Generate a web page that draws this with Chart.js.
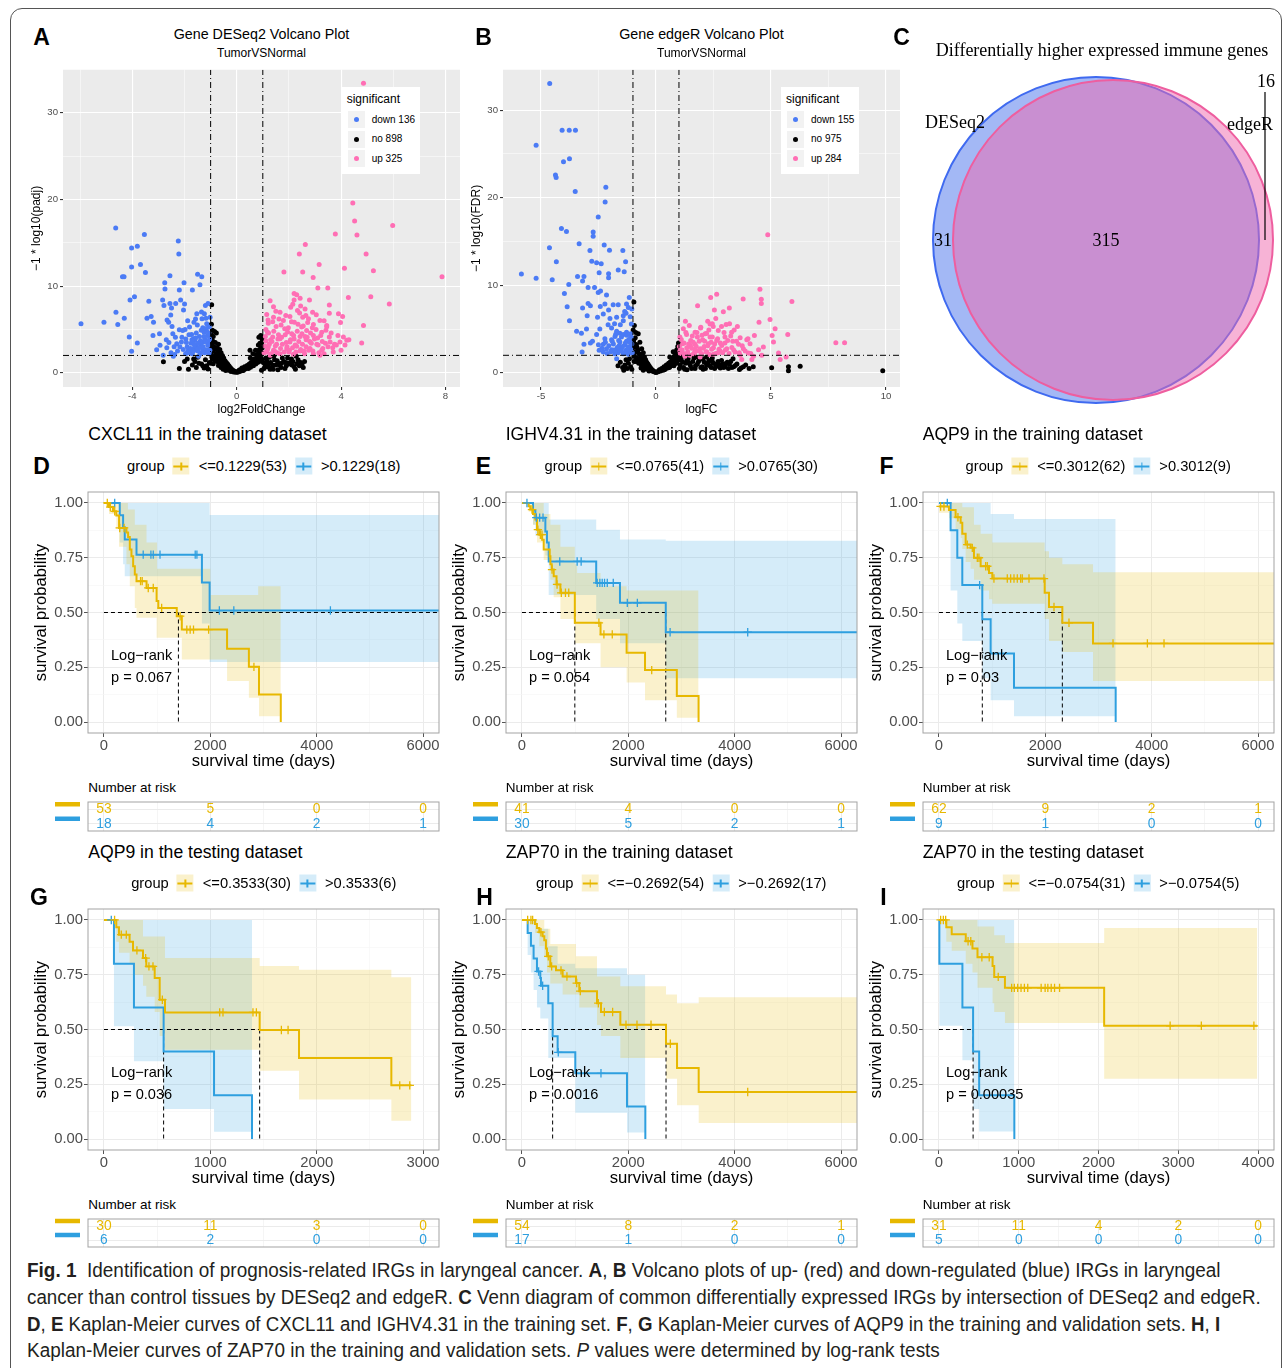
<!DOCTYPE html>
<html>
<head>
<meta charset="utf-8">
<title>Fig. 1</title>
<script src="https://cdn.jsdelivr.net/npm/chart.js@4.4.1/dist/chart.umd.min.js"></script>
<style>
  body { margin:0; width:1287px; height:1368px; position:relative; overflow:hidden; background:#fff;
         font-family:"Liberation Sans", Arial, sans-serif; color:#000; }
  canvas, .abs { position:absolute; }
  .abs { white-space:nowrap; line-height:1; }
  .mid { transform:translateY(-50%); }
  .ctr { transform:translate(-50%,-50%); }
  .frame { left:10px; top:8px; width:1270px; height:1420px; border:1px solid #555; border-radius:12px; }
  .letter { font-weight:bold; font-size:23px; }
  .vtitle { font-size:14.3px; }
  .vsub { font-size:12px; }
  .kmtitle { font-size:17.6px; }
  .risklab { font-size:13.5px; }
  .legend { display:flex; align-items:center; font-size:14.7px; }
  .key { position:relative; display:inline-block; width:17px; height:17px; margin:0 9px 0 8px; }
  .key i { position:absolute; left:1px; right:1px; top:7.5px; height:2px; }
  .key b { position:absolute; left:7.8px; width:1.4px; top:4.5px; height:8px; }
  .vleg { background:#fff; width:78px; height:87px; }
  .vleg .t { position:absolute; left:5px; top:6px; font-size:12px; }
  .vleg .k { position:absolute; left:6px; width:17px; height:17px; background:#F2F2F2; }
  .vleg .k span { position:absolute; left:6px; top:6px; width:5px; height:5px; border-radius:50%; }
  .vleg .l { position:absolute; left:30px; font-size:10px; transform:translateY(-50%); }
  .venn { font-family:"Liberation Serif", "Times New Roman", serif; font-size:18px; }
  .caption { left:27px; font-family:"Liberation Sans Narrow", "Liberation Sans", Arial, sans-serif;
             font-size:20px; color:#231F20; transform-origin:0 50%; }
</style>
</head>
<body>
<div class="abs frame"></div>
<script>
// ---------- volcano data: [log fold change, -log10(adj p)] ----------
const aDown = [[-5.97,5.65],[-5.09,5.84],[-4.64,16.7],[-4.63,6.98],[-4.56,5.57],[-4.38,11.07],[-4.32,11.07],[-4.31,6.3],
  [-4.09,8.4],[-4.12,4.12],[-4.03,2.48],[-4.03,14.4],[-4.03,12.2],[-3.92,8.78],[-3.81,14.6],[-3.81,3.43],[-3.69,12.5],
  [-3.54,15.95],[-3.5,11.56],[-3.44,6.3],[-3.37,8.24],[-3.28,6.49],[-3.21,4.31],[-3.19,5.84],[-3.07,2.67],[-2.96,4.5],
  [-2.94,3.17],[-2.84,8.4],[-2.82,2.02],[-2.79,7.75],[-2.76,10.4],[-2.75,9.66],[-2.68,2.9],[-2.67,6.1],[-2.61,5.84],
  [-2.56,11.2],[-2.56,8.0],[-2.53,6.68],[-2.5,7.48],[-2.48,5.34],[-2.45,4.5],[-2.43,1.9],[-2.38,2.1],[-2.34,8.0],
  [-2.3,3.36],[-2.24,15.2],[-2.22,13.7],[-2.2,9.54],[-2.2,4.96],[-2.15,8.4],[-2.12,3.55],[-2.07,4.89],[-2.04,7.25],
  [-2.02,10.4],[-2.0,7.94],[-1.96,2.2],[-1.85,2.6],[-1.81,5.27],[-1.79,2.29],[-1.73,4.43],[-1.7,9.54],[-1.66,3.93],
  [-1.64,5.84],[-1.6,3.74],[-1.56,3.17],[-1.53,6.8],[-1.5,11.37],[-1.46,1.9],[-1.43,4.2],[-1.41,10.15],[-1.34,11.07],
  [-1.33,6.22],[-1.3,2.79],[-1.28,3.55],[-1.25,4.69],[-1.24,6.8],[-1.2,7.75],[-1.18,2.67],[-1.15,5.65],[-1.12,4.31],
  [-1.09,3.17],[-1.06,2.29],[-1.05,5.27],[-1.02,6.41],[-1.9,3.0],[-1.75,3.4],[-1.62,2.9],[-1.48,2.5],[-1.38,3.3],
  [-1.22,3.9],[-1.1,2.6],[-1.7,2.2],[-1.55,4.6],[-1.95,3.9],[-2.35,4.1],[-2.6,3.5],[-1.3,5.2],[-1.15,4.8],[-1.08,3.6],[-1.4,2.2],
  [-1.03,2.6],[-1.04,3.9],[-1.07,4.6],[-1.11,3.2],[-1.14,2.4],[-1.17,5.1],[-1.19,3.6],[-1.23,2.3],[-1.26,4.2],[-1.29,3.0],
  [-1.32,2.4],[-1.36,4.9],[-1.39,3.7],[-1.44,2.9],[-1.47,3.4],[-1.51,5.5],[-1.54,2.6],[-1.58,4.0],[-1.63,3.3],[-1.67,2.5],
  [-1.72,3.8],[-1.77,2.8],[-1.83,4.4],[-1.88,2.4],[-1.93,3.5],[-1.98,5.0],[-2.05,2.7],[-2.1,4.1],[-2.18,3.0],[-2.27,2.5],
  [-2.4,3.0],[-2.52,2.3],[-2.7,3.8],[-1.18,6.3],[-1.35,7.0],[-1.58,6.2],[-1.88,6.0],[-1.1,8.0]];
const aNo = [[-0.96,7.86],[-0.97,5.6],[-0.93,4.9],[-0.85,4.75],[-0.78,4.6],[-0.9,4.2],[-0.95,3.8],[-0.82,3.5],[-0.7,3.3],
  [-0.88,3.0],[-0.75,2.9],[-0.65,2.7],[-0.92,2.5],[-0.6,2.3],[-0.8,2.2],[-0.55,2.0],[-0.7,1.9],[-0.95,1.8],[-0.5,1.7],
  [-0.62,1.6],[-0.85,1.5],[-0.45,1.4],[-0.75,1.3],[-0.4,1.2],[-0.58,1.1],[-0.9,1.05],[-0.35,1.0],[-0.5,0.9],[-0.7,0.85],
  [-0.3,0.8],[-0.45,0.7],[-0.25,0.6],[-0.6,0.6],[-0.38,0.5],[-0.2,0.45],[-0.52,0.4],[-0.15,0.3],[-0.3,0.3],[-0.1,0.2],
  [-0.42,0.25],[-0.05,0.1],[-0.22,0.15],[0,0.05],[-0.12,0.08],[0.05,0.08],[0.1,0.15],[0.15,0.2],[0.22,0.3],[0.28,0.4],
  [0.35,0.5],[0.12,0.35],[0.2,0.55],[0.3,0.7],[0.42,0.6],[0.4,0.85],[0.5,0.8],[0.48,1.0],[0.55,1.2],[0.6,0.9],[0.62,1.4],
  [0.68,1.1],[0.7,1.6],[0.75,1.3],[0.78,1.9],[0.82,1.5],[0.85,2.2],[0.88,1.7],[0.9,2.5],[0.92,2.9],[0.95,3.4],[0.97,3.9],
  [0.85,4.1],[0.92,4.3],[0.83,3.2],[0.72,2.6],[0.62,2.2],[0.52,1.7],[0.51,2.6],[-2.81,1.26],[-1.9,1.6],[-1.6,1.3],
  [-1.35,1.0],[-1.2,1.5],[-1.15,0.8],[-1.05,1.2],[-1.5,1.8],[-1.25,0.55],[-1.1,0.45],[1.05,0.5],[1.1,1.0],[1.15,1.4],
  [1.2,0.7],[1.3,1.2],[1.35,0.6],[1.45,1.5],[1.5,0.9],[1.6,1.1],[1.7,0.6],[1.8,1.3],[1.9,0.8],[2.0,1.0],[2.1,1.6],
  [2.2,0.7],[2.3,1.05],[2.4,0.8],[2.15,1.3],[1.75,1.7],[1.25,1.8],[2.5,0.95],[1.4,0.4],[0.95,0.3],
  [-0.98,4.4],[-0.96,3.3],[-0.99,2.8],[-0.97,2.1],[-0.93,1.6],[-0.91,3.6],[-0.87,2.7],[-0.83,1.9],[-0.8,2.9],[-0.77,1.5],
  [-0.73,2.4],[-0.69,1.2],[-0.66,2.1],[-0.63,1.0],[-0.59,1.8],[-0.56,0.8],[-0.53,1.4],[-0.48,0.6],[-0.46,1.1],[-0.43,0.5],
  [-0.41,0.9],[-0.36,0.4],[-0.33,0.65],[-0.28,0.35],[-0.26,0.5],[-0.18,0.25],[-0.08,0.12],[0.03,0.12],[0.08,0.25],[0.18,0.3],
  [0.25,0.25],[0.32,0.45],[0.38,0.62],[0.45,0.5],[0.53,0.65],[0.58,1.05],[0.64,0.8],[0.66,1.6],[0.73,1.0],[0.76,2.1],
  [0.8,1.2],[0.84,2.6],[0.87,1.3],[0.89,3.4],[0.91,2.0],[0.94,2.4],[0.96,1.6],[0.98,2.9],[0.99,4.1],[-1.0,1.1],[-1.3,0.8],
  [-1.45,1.1],[-1.7,0.9],[-2.0,1.3],[-2.2,0.5],[-1.55,0.6],[-1.85,0.4],[-1.65,1.6],[1.02,1.2],[1.08,0.7],[1.12,1.7],
  [1.22,1.0],[1.28,0.4],[1.38,0.9],[1.42,1.9],[1.55,1.4],[1.65,0.9],[1.72,1.1],[1.85,0.5],[1.95,1.7],[2.05,1.2],[2.25,0.4],
  [2.35,1.5],[2.45,1.2],[2.55,0.6],[2.6,1.3],[2.28,1.9],[1.58,0.35],[1.88,1.2],[2.12,0.9]];
const aUp = [[4.86,33.4],[4.45,19.6],[4.52,17.5],[5.98,17.0],[3.78,16.0],[4.61,15.9],[2.63,14.8],[2.4,13.7],[4.96,13.7],
  [3.16,12.5],[4.13,12.06],[5.24,11.76],[1.81,11.64],[2.53,11.64],[2.93,11.0],[7.87,11.07],[3.11,9.77],[3.49,9.77],
  [2.2,9.16],[2.3,9.0],[2.43,8.6],[4.28,8.7],[5.14,8.78],[1.28,8.3],[2.2,8.4],[2.79,8.4],[5.85,7.94],[3.55,7.82],
  [1.41,7.63],[2.07,7.56],[2.62,7.37],[2.33,7.18],[1.66,6.98],[2.91,6.98],[1.15,6.72],[3.55,6.87],[3.9,6.8],[2.04,6.49],
  [1.41,6.41],[2.53,6.41],[4.06,6.49],[2.75,6.22],[1.79,6.03],[3.19,6.03],[1.21,5.72],[2.21,5.84],[2.94,5.57],[4.86,5.46],
  [1.51,5.34],[2.49,5.27],[3.45,5.46],[1.84,5.08],[2.68,4.89],[1.18,4.69],[3.26,4.69],[2.11,4.5],[2.94,4.31],[3.55,4.12],
  [1.38,4.12],[2.43,4.2],[4.09,4.12],[1.66,3.93],[2.66,3.82],[3.58,3.55],[1.12,3.66],[2.04,3.55],[3.96,3.55],[4.22,3.74],
  [4.79,3.43],[3.75,3.28],[1.53,3.28],[3.07,3.28],[2.3,3.05],[1.21,2.98],[2.81,2.79],[1.92,2.79],[1.41,2.6],[3.26,2.6],
  [2.43,2.52],[1.15,2.4],[2.94,2.21],[1.66,2.21],[3.19,2.02],[2.17,2.14],[1.28,2.02],[1.3,3.8],[1.6,4.4],[1.9,3.5],
  [2.2,3.9],[2.5,4.5],[2.8,3.6],[3.1,4.0],[1.45,2.5],[2.0,2.4],[2.6,2.2],[3.3,2.8],[3.7,2.4],[1.1,4.2],[1.7,5.5],
  [2.35,5.6],[2.9,5.2],[3.4,3.4],[1.25,3.3],[1.95,4.7],[2.7,4.1],
  [1.05,2.3],[1.08,3.1],[1.12,5.0],[1.18,2.7],[1.22,4.6],[1.32,2.2],[1.35,3.6],[1.38,5.9],[1.42,4.8],[1.48,3.1],[1.55,2.3],
  [1.58,3.9],[1.62,6.2],[1.68,2.8],[1.72,4.1],[1.75,3.3],[1.82,2.4],[1.86,4.4],[1.88,6.6],[1.93,3.0],[1.98,5.2],[2.02,2.6],
  [2.06,3.8],[2.1,5.9],[2.14,2.9],[2.18,4.3],[2.24,3.2],[2.27,2.4],[2.32,4.8],[2.38,3.6],[2.41,6.9],[2.45,2.7],[2.52,3.3],
  [2.55,5.4],[2.58,2.5],[2.62,4.2],[2.66,3.0],[2.72,5.8],[2.76,2.6],[2.83,4.6],[2.86,3.4],[2.92,2.5],[2.98,3.9],[3.04,5.0],
  [3.12,3.2],[3.15,2.3],[3.22,4.3],[3.28,3.6],[3.35,2.2],[3.42,4.9],[3.5,3.0],[3.62,4.6],[3.68,2.9],[3.82,3.2],[3.88,4.3],
  [4.0,2.6],[4.15,3.2],[4.3,3.8],[3.98,5.8],[1.2,6.1],[1.5,7.1],[2.15,7.9],[2.45,7.7],[2.65,6.6],[3.05,6.7],[3.35,6.0],[3.45,5.3]];
const aCounts = [136, 898, 325];

const bDown = [[-4.62,33.06],[-5.21,26.0],[-4.08,27.7],[-3.77,27.7],[-3.5,27.7],[-3.76,24.45],[-4.02,24.1],[-4.37,22.6],
  [-4.34,22.3],[-3.51,20.7],[-2.18,21.2],[-2.21,19.5],[-2.51,17.8],[-4.11,16.5],[-3.89,16.15],[-2.73,16.1],[-2.73,15.6],
  [-2.25,14.6],[-3.34,14.75],[-4.63,14.3],[-2.87,13.96],[-2.02,14.0],[-1.44,13.96],[-4.33,12.7],[-2.79,12.75],[-2.58,12.57],
  [-2.38,12.45],[-1.32,12.7],[-5.85,11.28],[-5.21,10.8],[-4.51,10.64],[-3.41,11.0],[-3.13,11.0],[-3.19,10.5],[-2.47,11.43],
  [-2.06,11.32],[-2.06,10.87],[-1.64,11.74],[-1.38,11.55],[-3.79,10.1],[-2.95,9.74],[-2.67,9.74],[-2.51,9.17],[-2.15,8.9],
  [-3.98,9.06],[-2.41,9.36],[-1.16,8.6],[-2.95,7.92],[-2.85,7.66],[-2.22,7.85],[-1.86,7.77],[-1.64,7.77],[-1.28,7.85],
  [-3.86,7.55],[-3.19,7.4],[-2.42,7.58],[-2.06,7.17],[-1.2,7.47],[-1.36,7.0],[-2.99,6.53],[-2.29,6.72],[-2.54,6.34],
  [-1.71,6.34],[-1.42,6.53],[-3.76,5.96],[-1.42,5.96],[-2.08,5.5],[-1.07,5.58],[-1.93,5.13],[-2.44,5.0],[-3.02,5.0],
  [-3.45,4.75],[-3.24,4.53],[-2.58,4.38],[-1.71,4.75],[-1.57,4.53],[-1.42,4.38],[-1.28,4.64],[-1.78,4.15],[-1.1,4.45],
  [-2.22,3.89],[-1.93,3.77],[-2.76,3.62],[-3.13,3.25],[-2.85,3.4],[-1.57,3.51],[-1.28,3.62],[-1.13,3.51],[-2.29,3.25],
  [-2.47,2.57],[-2.15,2.75],[-1.93,2.64],[-1.71,2.57],[-1.5,2.75],[-1.31,2.57],[-1.1,2.75],[-3.21,2.38],[-2.29,2.38],
  [-1.79,2.19],[-1.42,2.19],[-1.2,2.11],[-1.71,1.62],[-1.6,3.1],[-1.35,3.2],[-1.15,3.0],[-1.85,3.3],[-1.25,2.45],[-1.65,2.3],
  [-1.03,2.3],[-1.05,3.3],[-1.08,4.1],[-1.12,2.5],[-1.18,3.8],[-1.22,2.9],[-1.27,4.3],[-1.33,3.4],[-1.38,2.3],[-1.45,3.0],
  [-1.5,4.1],[-1.55,2.5],[-1.62,3.7],[-1.68,2.9],[-1.75,4.4],[-1.82,2.6],[-1.9,3.6],[-1.97,2.4],[-2.05,3.1],[-2.12,2.2],
  [-2.2,3.5],[-2.35,2.8],[-2.5,3.2],[-1.12,6.4],[-1.3,6.8],[-1.55,5.5],[-1.8,5.6],[-1.05,7.3],[-2.0,6.2]];
const bNo = [[-0.96,8.1],[-0.94,5.4],[-0.88,4.6],[-0.77,4.45],[-0.9,4.0],[-0.7,3.5],[-0.85,3.2],[-0.62,2.75],[-0.78,2.6],
  [-0.55,2.3],[-0.95,2.2],[-0.68,2.0],[-0.5,1.8],[-0.85,1.7],[-0.45,1.5],[-0.6,1.4],[-0.95,1.3],[-0.4,1.2],[-0.75,1.1],
  [-0.35,1.0],[-0.5,0.9],[-1.2,1.1],[-1.35,0.9],[-1.1,0.7],[-1.45,0.6],[-1.05,0.4],[-0.3,0.8],[-0.45,0.65],[-0.25,0.6],
  [-0.65,0.55],[-0.2,0.45],[-0.38,0.4],[-0.15,0.3],[-0.55,0.3],[-0.1,0.2],[-0.3,0.2],[-0.05,0.1],[0,0.05],[0.05,0.08],
  [0.1,0.15],[0.2,0.2],[0.3,0.3],[0.15,0.35],[0.4,0.4],[0.25,0.5],[0.5,0.55],[0.35,0.7],[0.6,0.7],[0.45,0.9],[0.7,0.85],
  [0.55,1.1],[0.8,1.0],[0.65,1.3],[0.9,1.2],[0.72,1.6],[0.95,1.5],[0.8,1.9],[0.85,2.2],[0.9,2.6],[0.95,3.0],[0.98,3.4],
  [0.75,2.4],[0.6,1.8],[1.05,0.9],[1.1,1.4],[1.2,0.6],[1.3,1.1],[1.4,1.6],[1.5,0.8],[1.6,1.3],[1.7,0.5],[1.8,1.0],
  [1.9,1.5],[2.0,0.7],[2.1,1.2],[2.2,0.9],[2.3,1.4],[2.4,0.6],[2.5,1.1],[2.6,0.8],[2.7,1.3],[2.8,0.55],[2.9,1.0],
  [3.0,0.75],[3.19,0.98],[3.3,0.6],[3.45,0.85],[3.63,0.38],[3.8,0.7],[4.23,0.68],[5.03,0.57],[5.76,0.68],[5.76,0.23],
  [6.27,0.75],[9.86,0.23],[1.15,1.9],[2.45,1.7],[1.75,1.8],[1.35,0.35],[2.05,0.4],[2.75,0.9],[3.1,1.2],[-1.3,1.5],
  [-0.99,4.9],[-0.97,3.7],[-0.98,2.9],[-0.96,1.9],[-0.92,3.3],[-0.89,2.4],[-0.86,1.3],[-0.82,2.9],[-0.8,1.6],[-0.74,2.2],
  [-0.71,1.3],[-0.66,1.7],[-0.63,0.9],[-0.58,1.3],[-0.52,1.1],[-0.47,0.7],[-0.42,0.9],[-0.33,0.55],[-0.28,0.4],[-0.22,0.3],
  [-0.12,0.15],[0.08,0.12],[0.18,0.3],[0.28,0.45],[0.35,0.35],[0.45,0.6],[0.52,0.9],[0.58,0.6],[0.62,1.2],[0.68,0.9],
  [0.74,1.4],[0.78,0.8],[0.82,1.6],[0.88,1.1],[0.92,2.1],[0.96,1.8],[0.99,2.5],[-1.15,1.6],[-1.25,0.5],[-1.55,1.2],
  [-1.65,0.8],[-1.4,0.3],[1.02,0.5],[1.08,1.6],[1.18,1.2],[1.25,0.4],[1.35,1.5],[1.45,1.1],[1.55,0.5],[1.65,1.7],
  [1.72,0.8],[1.85,1.3],[1.95,0.6],[2.05,1.6],[2.15,0.5],[2.25,1.1],[2.35,0.8],[2.45,1.3],[2.55,0.5],[2.65,1.0],
  [2.75,0.7],[2.85,1.4],[2.95,0.6],[3.05,1.1],[3.15,0.5],[3.25,1.3],[3.38,0.7],[3.52,1.0],[3.7,0.55],[3.9,0.9],
  [4.05,0.5],[3.35,1.6],[2.2,1.8],[1.3,1.9]];
const bUp = [[4.86,15.77],[4.52,9.55],[4.58,8.4],[4.58,7.92],[5.91,8.15],[2.64,8.98],[2.38,8.6],[3.79,8.42],[1.81,7.66],
  [3.19,7.4],[2.54,7.17],[2.93,6.98],[4.96,6.08],[1.28,5.89],[2.25,5.89],[4.48,5.77],[3.05,5.51],[1.45,5.4],[2.35,5.58],
  [3.54,5.28],[5.18,5.02],[1.19,5.02],[1.94,5.13],[2.49,5.28],[1.7,4.64],[2.71,4.83],[3.29,4.64],[2.14,4.45],[1.33,4.38],
  [4.28,4.26],[5.05,4.26],[5.73,4.38],[1.04,4.08],[1.8,4.08],[2.35,4.08],[3.0,4.08],[3.66,4.0],[1.51,3.7],[2.03,3.77],
  [2.64,3.7],[3.34,3.62],[3.95,3.77],[5.11,3.51],[7.82,3.43],[8.2,3.43],[1.16,3.32],[1.7,3.25],[2.28,3.32],[2.86,3.13],
  [3.59,3.25],[4.09,3.32],[1.34,2.87],[1.92,2.75],[2.5,2.87],[3.08,2.75],[3.8,2.75],[4.46,2.64],[4.67,2.94],[1.04,2.49],
  [2.21,2.38],[2.79,2.49],[3.44,2.38],[4.02,2.26],[5.33,2.26],[1.63,2.19],[2.5,2.11],[3.66,2.0],[4.24,1.89],[4.6,2.0],
  [5.66,1.81],[5.4,1.51],[3.73,1.51],[4.17,1.51],[1.26,1.89],[1.92,1.81],[1.5,3.1],[2.1,3.0],[2.7,2.3],[3.3,2.9],
  [1.2,2.2],[2.4,3.5],[1.7,2.6],[3.0,3.4],[2.2,4.5],
  [1.02,3.0],[1.06,2.2],[1.1,3.8],[1.14,2.6],[1.22,3.4],[1.24,2.1],[1.3,4.6],[1.38,2.4],[1.42,3.3],[1.47,2.0],[1.55,2.8],
  [1.58,4.2],[1.62,3.5],[1.68,2.3],[1.75,3.0],[1.78,4.6],[1.85,2.5],[1.88,3.6],[1.98,2.2],[2.0,4.3],[2.06,2.8],[2.12,3.6],
  [2.18,2.4],[2.25,3.1],[2.3,4.9],[2.33,2.1],[2.42,2.7],[2.45,4.1],[2.55,3.3],[2.6,2.2],[2.68,3.9],[2.74,2.7],[2.8,3.4],
  [2.9,2.3],[2.96,4.6],[3.02,2.6],[3.12,3.7],[3.18,2.2],[3.25,4.2],[3.38,2.6],[3.5,3.6],[3.62,2.3],[3.75,3.1],[3.88,2.5],
  [4.0,3.9],[4.12,2.2],[2.85,5.3],[2.45,5.6],[1.95,5.2],[3.2,5.6],[2.6,6.2],[3.4,4.9]];
const bCounts = [155, 975, 284];
const sigNames = ['down', 'no', 'up'];
const fcCut = [-1, 1];
const padjCut = 2;

// ---------- Venn ----------
const vennSets = ['DESeq2', 'edgeR'];
const vennCounts = [31, 315, 16]; // DESeq2 only, both, edgeR only

// ---------- Kaplan-Meier: [time, survival] steps, CI bounds, censored times ----------
// D: CXCL11 training
const dLoCurve = [[0,1],[95,0.981],[170,0.962],[233,0.943],[284,0.886],[423,0.865],[454,0.845],[486,0.787],[517,0.757],[549,0.711],
  [580,0.673],[612,0.643],[801,0.612],[990,0.552],[1022,0.521],[1369,0.483],[1464,0.422],[2315,0.334],[2725,0.252],[2915,0.126],[3325,0]];
const dLoCens = [63,120,202,297,379,688,719,833,927,1085,1432,1558,1621,1684,1968,2820];
const dLoUpper = [[0,1],[300,1],[450,0.97],[580,0.9],[800,0.82],[1000,0.7],[2000,0.58],[2900,0.62],[3325,0.62]];
const dLoLower = [[0,1],[95,0.95],[233,0.88],[284,0.8],[423,0.72],[486,0.62],[580,0.52],[612,0.476],[990,0.385],[1464,0.286],
  [2315,0.187],[2725,0.111],[2915,0.027],[3325,0.027]];
const dHiCurve = [[0,1],[297,0.944],[360,0.889],[391,0.833],[612,0.764],[1842,0.637],[1987,0.509],[6300,0.509]];
const dHiCens = [202,738,883,927,1054,1716,1748,2170,2442,4258];
const dHiUpper = [[0,1],[1987,0.945],[6300,0.945]];
const dHiLower = [[0,1],[297,0.82],[360,0.72],[391,0.666],[1842,0.45],[1987,0.274],[6300,0.274]];
const dMedians = [1400];
const dRiskLo = [53, 5, 0, 0];
const dRiskHi = [18, 4, 2, 1];

// E: IGHV4.31 training
const eLoCurve = [[0,1],[126,0.985],[157,0.97],[208,0.95],[252,0.925],[283,0.878],[330,0.855],[380,0.832],[409,0.787],[522,0.757],
  [535,0.72],[560,0.696],[597,0.666],[650,0.628],[723,0.59],[994,0.453],[1478,0.4],[1968,0.316],[2314,0.237],[2912,0.119],[3321,0]];
const eLoCens = [189,300,346,377,566,660,740,818,880,1447,1541,1698,2440];
const eLoUpper = [[0,1],[283,1],[409,0.95],[535,0.9],[723,0.8],[994,0.72],[1038,0.68],[1478,0.62],[1968,0.6],[3321,0.6]];
const eLoLower = [[0,1],[126,0.96],[208,0.9],[283,0.82],[409,0.74],[535,0.65],[597,0.57],[723,0.47],[994,0.36],[1478,0.25],
  [1968,0.18],[2314,0.1],[2912,0.02],[3321,0.02]];
const eHiCurve = [[0,1],[208,0.967],[252,0.933],[440,0.87],[470,0.82],[503,0.733],[1396,0.635],[1843,0.544],[2704,0.41],[6300,0.41]];
const eHiCens = [94,270,333,396,711,1038,1113,1415,1465,1509,1553,1604,1717,1981,2170,2786,4245];
const eHiUpper = [[0,1],[503,0.924],[1396,0.878],[1843,0.833],[2704,0.828],[6300,0.828]];
const eHiLower = [[0,1],[208,0.9],[252,0.85],[440,0.76],[503,0.58],[1396,0.47],[1843,0.36],[2704,0.2],[6300,0.2]];
const eMedians = [994, 2704];
const eRiskLo = [41, 4, 0, 0];
const eRiskHi = [30, 5, 2, 1];

// F: AQP9 training
const fLoCurve = [[0,0.984],[188,0.968],[313,0.935],[408,0.91],[439,0.86],[502,0.81],[596,0.795],[658,0.75],[784,0.711],[941,0.68],
  [1003,0.655],[1988,0.59],[2069,0.525],[2320,0.453],[2897,0.359],[6300,0.359]];
const fLoCens = [31,94,357,533,627,721,752,878,909,1034,1285,1348,1411,1473,1536,1567,1693,1975,2163,2445,3273,3919,4232];
const fLoUpper = [[0,1],[439,0.98],[658,0.9],[784,0.86],[1003,0.82],[1988,0.78],[2069,0.75],[2320,0.72],[2897,0.684],[6300,0.684]];
const fLoLower = [[0,0.955],[188,0.93],[313,0.88],[408,0.84],[439,0.79],[502,0.73],[596,0.7],[658,0.65],[784,0.6],[941,0.56],
  [1003,0.54],[1988,0.47],[2069,0.37],[2320,0.32],[2897,0.187],[6300,0.187]];
const fHiCurve = [[0,1],[219,0.875],[345,0.75],[439,0.625],[815,0.469],[972,0.3125],[1411,0.156],[3323,0]];
const fHiCens = [157,765];
const fHiUpper = [[0,1],[972,0.95],[1411,0.927],[3323,0.927]];
const fHiLower = [[0,1],[219,0.6],[345,0.45],[439,0.37],[815,0.2],[972,0.1],[1411,0.027],[3323,0.027]];
const fMedians = [815, 2320];
const fRiskLo = [62, 9, 2, 1];
const fRiskHi = [9, 1, 0, 0];

// G: AQP9 testing
const gLoCurve = [[0,1],[116,0.967],[141,0.933],[241,0.9],[273,0.861],[367,0.826],[398,0.788],[477,0.735],[524,0.636],[574,0.578],
  [1464,0.498],[1834,0.37],[2702,0.245],[2890,0.245]];
const gLoCens = [100,163,210,310,392,423,461,549,1088,1119,1401,1433,1668,1731,2781,2875];
const gLoUpper = [[0,1],[367,0.925],[574,0.826],[1464,0.79],[1834,0.773],[2702,0.738],[2890,0.738]];
const gLoLower = [[0,1],[116,0.9],[141,0.85],[241,0.8],[273,0.75],[367,0.7],[398,0.65],[477,0.58],[524,0.47],[574,0.408],
  [1464,0.312],[1834,0.18],[2702,0.084],[2890,0.084]];
const gHiCurve = [[0,1],[94,0.8],[282,0.6],[561,0.4],[1035,0.2],[1392,0]];
const gHiCens = [69];
const gHiUpper = [[0,1],[1392,1]];
const gHiLower = [[0,1],[94,0.515],[282,0.355],[561,0.137],[1035,0.033],[1392,0.033]];
const gMedians = [561, 1464];
const gRiskLo = [30, 11, 3, 0];
const gRiskHi = [6, 2, 0, 0];

// H: ZAP70 training
const hLoCurve = [[0,1],[245,0.981],[282,0.963],[326,0.944],[389,0.926],[420,0.907],[451,0.87],[470,0.834],[533,0.788],[640,0.77],
  [765,0.742],[1016,0.712],[1078,0.675],[1411,0.62],[1486,0.58],[1850,0.522],[2709,0.435],[2916,0.324],[3323,0.215],[6300,0.215]];
const hLoCens = [107,169,201,357,495,558,734,846,1030,1097,1436,1549,1705,1956,2163,2427,2790,4245];
const hLoUpper = [[0,1],[420,0.96],[533,0.89],[1016,0.834],[1411,0.742],[1850,0.697],[2709,0.66],[2916,0.62],[3323,0.647],[6300,0.647]];
const hLoLower = [[0,1],[245,0.94],[326,0.88],[420,0.83],[470,0.76],[533,0.71],[765,0.66],[1078,0.6],[1411,0.52],[1486,0.47],
  [1850,0.37],[2709,0.275],[2916,0.154],[3323,0.073],[6300,0.073]];
const hHiCurve = [[0,1],[107,0.941],[169,0.882],[219,0.824],[282,0.765],[345,0.735],[357,0.7],[495,0.62],[577,0.469],[671,0.396],
  [1003,0.3],[1975,0.149],[2320,0]];
const hHiCens = [313,389,683,1486];
const hHiUpper = [[0,1],[282,0.96],[495,0.88],[671,0.8],[1003,0.78],[1975,0.75],[2320,0.75]];
const hHiLower = [[0,1],[107,0.84],[169,0.76],[219,0.68],[282,0.6],[345,0.55],[495,0.37],[1003,0.12],[1975,0.03],[2320,0.03]];
const hMedians = [577, 2709];
const hRiskLo = [54, 8, 2, 1];
const hRiskHi = [17, 1, 0, 0];

// I: ZAP70 testing
const iLoCurve = [[0,1],[92,0.967],[160,0.935],[336,0.903],[420,0.87],[483,0.83],[672,0.79],[693,0.74],[827,0.69],[2071,0.517],[3990,0.517]];
const iLoCens = [21,55,84,365,399,538,630,743,911,945,987,1029,1071,1113,1281,1331,1365,1407,1449,1512,2898,3289,3948];
const iLoUpper = [[0,1],[483,0.97],[693,0.93],[827,0.895],[2071,0.963],[3990,0.963]];
const iLoLower = [[0,1],[92,0.9],[160,0.86],[336,0.8],[420,0.76],[483,0.69],[672,0.62],[693,0.58],[827,0.53],[2071,0.275],[3990,0.275]];
const iHiCurve = [[0,1],[5,0.8],[294,0.6],[428,0.4],[504,0.2],[945,0]];
const iHiCens = [];
const iHiUpper = [[0,1],[945,1]];
const iHiLower = [[0,1],[5,0.517],[294,0.36],[428,0.137],[504,0.035],[945,0.035]];
const iMedians = [428];
const iRiskLo = [31, 11, 4, 2, 0];
const iRiskHi = [5, 0, 0, 0, 0];

const riskTimes6000 = [0, 2000, 4000, 6000];
const riskTimes3000 = [0, 1000, 2000, 3000];
const riskTimes4000 = [0, 1000, 2000, 3000, 4000];

// ---------- helpers ----------
const FONT = '"Liberation Sans", Arial, sans-serif';
Chart.defaults.font.family = FONT;
const YEL = '#E7B800', BLU = '#2E9FDF';
const YEL_BAND = 'rgba(231,184,0,0.2)', BLU_BAND = 'rgba(46,159,223,0.2)';
const PINK = '#FF6EB4', BLUEPT = '#4B7BF5';

const xy = p => ({ x: p[0], y: p[1] });
const has = (list, c) => c.tick != null && list.includes(c.tick.value);
const survAt = (curve, t) => { let s = curve[0][1]; curve.forEach(p => { if (p[0] <= t) s = p[1]; }); return s; };

function mkCanvas(x, y, w, h) {
  const c = document.createElement('canvas');
  c.width = Math.round(w); c.height = Math.round(h);
  c.style.left = x + 'px'; c.style.top = y + 'px';
  c.style.width = Math.round(w) + 'px'; c.style.height = Math.round(h) + 'px';
  document.body.appendChild(c);
  return c;
}

function el(cls, x, y, text, css) {
  const d = document.createElement('div');
  d.className = 'abs ' + (cls || '');
  d.style.left = x + 'px'; d.style.top = y + 'px';
  if (text != null) d.textContent = text;
  if (css) Object.assign(d.style, css);
  document.body.appendChild(d);
  return d;
}

const boxPlugin = color => ({
  id: 'box',
  afterDraw(chart) {
    const a = chart.chartArea, g = chart.ctx;
    g.save(); g.strokeStyle = color; g.lineWidth = 1;
    g.strokeRect(a.left, a.top, a.right - a.left, a.bottom - a.top);
    g.restore();
  }
});

const greyPanel = {
  id: 'greyPanel',
  beforeDraw(chart) {
    const a = chart.chartArea, g = chart.ctx;
    g.save(); g.fillStyle = '#EBEBEB'; g.fillRect(a.left, a.top, a.right - a.left, a.bottom - a.top); g.restore();
  }
};

// ---------- volcano plots ----------
function volcano(o) {
  const cv = mkCanvas(o.pl - 43, o.pt - 5, o.pr - o.pl + 48, o.pb - o.pt + 42);
  const yMaj = [0, 10, 20, 30], yMin = [5, 15, 25];
  const cut = { borderColor: '#000', borderWidth: 1, borderDash: [6, 3, 1, 3], pointRadius: 0, showLine: true };
  const pt = { pointRadius: 2.5, borderWidth: 0 };
  new Chart(cv, {
    type: 'scatter',
    data: { datasets: [
      ...fcCut.map(c => Object.assign({ data: [{ x: c, y: o.yMin }, { x: c, y: o.yMax }] }, cut)),
      Object.assign({ data: [{ x: o.xMin, y: padjCut }, { x: o.xMax, y: padjCut }] }, cut),
      Object.assign({ data: o.up.map(xy), backgroundColor: PINK }, pt),
      Object.assign({ data: o.down.map(xy), backgroundColor: BLUEPT }, pt),
      Object.assign({ data: o.no.map(xy), backgroundColor: '#000' }, pt)
    ] },
    options: {
      responsive: false, animation: false, events: [], devicePixelRatio: 1,
      layout: { padding: { top: 5, right: 5, left: 0, bottom: 0 } },
      plugins: { legend: { display: false }, tooltip: { enabled: false } },
      scales: {
        x: { type: 'linear', min: o.xMin, max: o.xMax,
          afterBuildTicks: s => { s.ticks = o.xMajor.concat(o.xMinor).sort((a, b) => a - b).map(v => ({ value: v })); },
          afterFit: s => { s.height = 37; },
          ticks: { autoSkip: false, maxRotation: 0, padding: 1, color: '#4D4D4D', font: { size: 9.6 },
                   callback: v => o.xMajor.includes(v) ? String(v) : '' },
          grid: { color: '#FFFFFF', lineWidth: c => has(o.xMajor, c) ? 1.1 : 0.5,
                  tickColor: c => has(o.xMajor, c) ? '#333' : 'rgba(0,0,0,0)', tickLength: 3 },
          border: { display: false },
          title: { display: true, text: o.xTitle, color: '#000', font: { size: 12 }, padding: { top: 0, bottom: 7.5 } } },
        y: { type: 'linear', min: o.yMin, max: o.yMax,
          afterBuildTicks: s => { s.ticks = yMaj.concat(yMin).sort((a, b) => a - b).map(v => ({ value: v })); },
          afterFit: s => { s.width = 43; },
          ticks: { autoSkip: false, padding: 2, color: '#4D4D4D', font: { size: 9.6 },
                   callback: v => yMaj.includes(v) ? String(v) : '' },
          grid: { color: '#FFFFFF', lineWidth: c => has(yMaj, c) ? 1.1 : 0.5,
                  tickColor: c => has(yMaj, c) ? '#333' : 'rgba(0,0,0,0)', tickLength: 3 },
          border: { display: false },
          title: { display: true, text: o.yTitle, color: '#000', font: { size: 12 }, padding: { top: 9.5, bottom: 0 } } }
      }
    },
    plugins: [greyPanel]
  });
  // legend
  const lg = el('vleg', o.legX, o.legY);
  const t = document.createElement('div'); t.className = 't'; t.textContent = 'significant'; lg.appendChild(t);
  const cols = [BLUEPT, '#000', PINK];
  sigNames.forEach((n, i) => {
    const cy = 33.3 + 19.35 * i;
    const k = document.createElement('div'); k.className = 'k'; k.style.top = (cy - 8.5) + 'px';
    const dot = document.createElement('span'); dot.style.background = cols[i]; k.appendChild(dot);
    lg.appendChild(k);
    const l = document.createElement('div'); l.className = 'l'; l.style.top = cy + 'px';
    l.textContent = n + ' ' + o.counts[i]; lg.appendChild(l);
  });
  const cx = (o.pl + o.pr) / 2;
  el('vtitle ctr', cx, 34, o.title);
  el('vsub ctr', cx, 53, 'TumorVSNormal');
}

volcano({ pl: 63, pr: 460, pt: 67, pb: 387, xMin: -6.66, xMax: 8.56, yMin: -1.64, yMax: 34.96,
  xMajor: [-4, 0, 4, 8], xMinor: [-6, -2, 2, 6], up: aUp, down: aDown, no: aNo, counts: aCounts,
  xTitle: 'log2FoldChange', yTitle: '\u22121 * log10(padj)', title: 'Gene DESeq2 Volcano Plot', legX: 341.7, legY: 86.7 });
volcano({ pl: 503, pr: 900, pt: 67, pb: 387, xMin: -6.65, xMax: 10.61, yMin: -1.62, yMax: 34.62,
  xMajor: [-5, 0, 5, 10], xMinor: [-2.5, 2.5, 7.5], up: bUp, down: bDown, no: bNo, counts: bCounts,
  xTitle: 'logFC', yTitle: '\u22121 * log10(FDR)', title: 'Gene edgeR Volcano Plot', legX: 781, legY: 86.7 });

// ---------- Venn ----------
(function venn() {
  const cv = mkCanvas(900, 60, 387, 360);
  const rad = r => c => c.chart.scales.x.getPixelForValue(r) - c.chart.scales.x.getPixelForValue(0);
  const at = (chart, x, y) => [chart.scales.x.getPixelForValue(x), chart.scales.y.getPixelForValue(y)];
  new Chart(cv, {
    type: 'scatter',
    data: { datasets: [
      { data: [{ x: 213, y: 180 }], pointRadius: rad(160), backgroundColor: 'rgba(239,103,173,0.5)', borderColor: '#EE5E9F', borderWidth: 2 },
      { data: [{ x: 196, y: 180 }], pointRadius: rad(163), backgroundColor: 'rgba(71,113,235,0.5)', borderColor: '#3F6AF0', borderWidth: 2 }
    ] },
    options: {
      responsive: false, animation: false, events: [], devicePixelRatio: 1,
      layout: { padding: 0 },
      plugins: { legend: { display: false }, tooltip: { enabled: false } },
      scales: { x: { display: false, min: 0, max: 387 }, y: { display: false, min: 0, max: 360, reverse: true } }
    },
    plugins: [{
      id: 'vennText',
      afterDatasetsDraw(chart) {
        const g = chart.ctx;
        g.save();
        g.fillStyle = '#000'; g.textAlign = 'center'; g.textBaseline = 'middle';
        g.font = '18px "Liberation Serif", "Times New Roman", serif';
        const items = [[vennSets[0], 55, 63], [vennSets[1], 350, 65],
                       [String(vennCounts[0]), 43, 181], [String(vennCounts[1]), 206, 181], [String(vennCounts[2]), 366, 22]];
        items.forEach(([s, x, y]) => { const p = at(chart, x, y); g.fillText(s, p[0], p[1]); });
        const p1 = at(chart, 365, 32), p2 = at(chart, 365, 180);
        g.strokeStyle = '#000'; g.lineWidth = 1.2;
        g.beginPath(); g.moveTo(p1[0], p1[1]); g.lineTo(p2[0], p2[1]); g.stroke();
        g.restore();
      }
    }]
  });
  el('venn ctr', 1102, 50, 'Differentially higher expressed immune genes');
})();

// ---------- Kaplan-Meier panels ----------
const PW = 351, YW = 63, PADT = 12, PADR = 10, XH = 42;
const yMajor = [0, 0.25, 0.5, 0.75, 1], yMinor = [0.125, 0.375, 0.625, 0.875];
const ROW1 = { title: 435, legend: 466, pt: 492.3, pb: 733.3, riskLab: 788, rt: 801.7, rb: 830.7 };
const ROW2 = { title: 853, legend: 883, pt: 909.3, pb: 1150, riskLab: 1205, rt: 1219, rb: 1247.3 };

function stepLine(pts, color, width, order, extra) {
  return Object.assign({ data: pts.map(xy), stepped: 'before', borderColor: color, borderWidth: width,
    pointRadius: 0, fill: false, order: order }, extra || {});
}
function marks(times, curve, color) {
  return { data: times.map(t => ({ x: t, y: survAt(curve, t) })), showLine: false, pointStyle: 'cross',
    pointRadius: 4.2, pointBorderWidth: 1.3, pointBorderColor: color, borderColor: color, order: 0 };
}
function xAxisBase(p) {
  return { type: 'linear', min: p.xMin, max: p.xMax,
    afterBuildTicks: s => { s.ticks = p.xMajor.concat(p.xMinor).sort((a, b) => a - b).map(v => ({ value: v })); },
    border: { display: false } };
}

function kmPanel(p) {
  const R = p.row, L = p.left;
  const cv = mkCanvas(L - YW, R.pt - PADT, PW + YW + PADR, R.pb - R.pt + PADT + XH);
  const medEnd = p.medEnd != null ? p.medEnd : Math.max(...p.medians);
  const medLines = [[[0, 0.5], [medEnd, 0.5]]].concat(p.medians.map(v => [[v, 0.5], [v, 0]]));
  const datasets = [
    stepLine(p.loUpper, 'rgba(0,0,0,0)', 0, 4),
    stepLine(p.loLower, 'rgba(0,0,0,0)', 0, 4, { fill: '-1', backgroundColor: YEL_BAND }),
    stepLine(p.hiUpper, 'rgba(0,0,0,0)', 0, 4),
    stepLine(p.hiLower, 'rgba(0,0,0,0)', 0, 4, { fill: '-1', backgroundColor: BLU_BAND }),
    ...medLines.map(m => ({ data: m.map(xy), borderColor: '#000', borderWidth: 1, borderDash: [4, 3], pointRadius: 0, fill: false, order: 3 })),
    stepLine(p.loCurve, YEL, 2, 1),
    stepLine(p.hiCurve, BLU, 2, 1),
    marks(p.loCens, p.loCurve, YEL),
    marks(p.hiCens, p.hiCurve, BLU)
  ];
  const x = Object.assign(xAxisBase(p), {
    afterFit: s => { s.height = XH; },
    ticks: { autoSkip: false, maxRotation: 0, padding: 0, color: '#4D4D4D', font: { size: 14.8 },
             callback: v => p.xMajor.includes(v) ? String(v) : '' },
    grid: { color: c => has(p.xMajor, c) ? '#EBEBEB' : '#F5F5F5', lineWidth: c => has(p.xMajor, c) ? 1 : 0.6,
            tickColor: c => has(p.xMajor, c) ? '#555' : 'rgba(0,0,0,0)', tickLength: 4 },
    title: { display: true, text: 'survival time (days)', color: '#000', font: { size: 16.7 }, padding: { top: 0, bottom: 3.3 } }
  });
  const y = { type: 'linear', min: -0.05, max: 1.05,
    afterBuildTicks: s => { s.ticks = yMajor.concat(yMinor).sort((a, b) => a - b).map(v => ({ value: v })); },
    afterFit: s => { s.width = YW; },
    ticks: { autoSkip: false, padding: 1, color: '#4D4D4D', font: { size: 14.8 },
             callback: v => yMajor.includes(v) ? v.toFixed(2) : '' },
    grid: { color: c => has(yMajor, c) ? '#EBEBEB' : '#F5F5F5', lineWidth: c => has(yMajor, c) ? 1 : 0.6,
            tickColor: c => has(yMajor, c) ? '#555' : 'rgba(0,0,0,0)', tickLength: 4 },
    border: { display: false },
    title: { display: true, text: 'survival probability', color: '#000', font: { size: 16.7 }, padding: { top: 6.4, bottom: 0 } } };
  new Chart(cv, {
    type: 'line',
    data: { datasets: datasets },
    options: {
      responsive: false, animation: false, events: [], devicePixelRatio: 1,
      layout: { padding: { top: PADT, right: PADR, left: 0, bottom: 0 } },
      plugins: { legend: { display: false }, tooltip: { enabled: false }, filler: { propagate: false } },
      scales: { x: x, y: y }
    },
    plugins: [boxPlugin('#A3A3A3'), {
      id: 'pval',
      afterDatasetsDraw(chart) {
        const g = chart.ctx, sx = chart.scales.x, sy = chart.scales.y;
        g.save(); g.font = '14.6px ' + FONT; g.fillStyle = '#000'; g.textBaseline = 'middle'; g.textAlign = 'left';
        g.fillText('Log\u2212rank', sx.getPixelForValue(0) + 7, sy.getPixelForValue(0.3));
        g.fillText('p = ' + p.pval, sx.getPixelForValue(0) + 7, sy.getPixelForValue(0.2));
        g.restore();
      }
    }]
  });

  // risk table
  const rv = mkCanvas(L - YW, R.rt - 6, PW + YW + PADR, R.rb - R.rt + 10);
  new Chart(rv, {
    type: 'line',
    data: { datasets: [] },
    options: {
      responsive: false, animation: false, events: [], devicePixelRatio: 1,
      layout: { padding: { top: 6, right: PADR, left: 0, bottom: 4 } },
      plugins: { legend: { display: false }, tooltip: { enabled: false } },
      scales: {
        x: Object.assign(xAxisBase(p), { afterFit: s => { s.height = 0; }, ticks: { display: false },
          grid: { color: c => has(p.xMajor, c) ? '#EBEBEB' : '#F5F5F5', drawTicks: false } }),
        y: { type: 'linear', min: 0.5, max: 2.5, afterBuildTicks: s => { s.ticks = [{ value: 1 }, { value: 2 }]; },
          afterFit: s => { s.width = YW; }, ticks: { display: false }, grid: { color: '#EBEBEB', drawTicks: false }, border: { display: false } }
      }
    },
    plugins: [boxPlugin('#A3A3A3'), {
      id: 'risk',
      afterDraw(chart) {
        const g = chart.ctx, sx = chart.scales.x, sy = chart.scales.y, a = chart.chartArea;
        g.save(); g.font = '13.8px ' + FONT; g.textAlign = 'center'; g.textBaseline = 'middle';
        [[p.riskLo, 2, YEL], [p.riskHi, 1, BLU]].forEach(([vals, row, col]) => {
          g.fillStyle = col;
          vals.forEach((n, i) => g.fillText(String(n), sx.getPixelForValue(p.riskT[i]), sy.getPixelForValue(row)));
          g.strokeStyle = col; g.lineWidth = 4.5;
          const yy = sy.getPixelForValue(row) - 5;
          g.beginPath(); g.moveTo(a.left - 33, yy); g.lineTo(a.left - 8, yy); g.stroke();
        });
        g.restore();
      }
    }]
  });
  el('risklab mid', L, R.riskLab, 'Number at risk');

  // title, letter, legend
  el('kmtitle mid', L, R.title, p.title);
  el('letter ctr', p.letterX, p.letterY, p.letter);
  const lg = el('legend ctr', L + PW / 2, R.legend);
  const addText = s => { const sp = document.createElement('span'); sp.textContent = s; lg.appendChild(sp); };
  const addKey = (col, band) => {
    const k = document.createElement('span'); k.className = 'key'; k.style.background = band;
    const h = document.createElement('i'); h.style.background = col; k.appendChild(h);
    const v = document.createElement('b'); v.style.background = col; k.appendChild(v);
    lg.appendChild(k);
  };
  addText('group'); addKey(YEL, YEL_BAND); addText(p.labels[0]); addKey(BLU, BLU_BAND); addText(p.labels[1]);
}

const COLS = [88.3, 505.7, 922.7];
const ax6000 = { xMin: -300, xMax: 6300, xMajor: [0, 2000, 4000, 6000], xMinor: [1000, 3000, 5000], riskT: riskTimes6000 };

kmPanel(Object.assign({ row: ROW1, left: COLS[0], title: 'CXCL11 in the training dataset', letter: 'D', letterX: 41.5, letterY: 466,
  labels: ['<=0.1229(53)', '>0.1229(18)'], pval: '0.067', medians: dMedians, medEnd: 6300,
  loCurve: dLoCurve, loCens: dLoCens, loUpper: dLoUpper, loLower: dLoLower,
  hiCurve: dHiCurve, hiCens: dHiCens, hiUpper: dHiUpper, hiLower: dHiLower, riskLo: dRiskLo, riskHi: dRiskHi }, ax6000));

kmPanel(Object.assign({ row: ROW1, left: COLS[1], title: 'IGHV4.31 in the training dataset', letter: 'E', letterX: 483.5, letterY: 466,
  labels: ['<=0.0765(41)', '>0.0765(30)'], pval: '0.054', medians: eMedians,
  loCurve: eLoCurve, loCens: eLoCens, loUpper: eLoUpper, loLower: eLoLower,
  hiCurve: eHiCurve, hiCens: eHiCens, hiUpper: eHiUpper, hiLower: eHiLower, riskLo: eRiskLo, riskHi: eRiskHi }, ax6000));

kmPanel(Object.assign({ row: ROW1, left: COLS[2], title: 'AQP9 in the training dataset', letter: 'F', letterX: 886.5, letterY: 466,
  labels: ['<=0.3012(62)', '>0.3012(9)'], pval: '0.03', medians: fMedians,
  loCurve: fLoCurve, loCens: fLoCens, loUpper: fLoUpper, loLower: fLoLower,
  hiCurve: fHiCurve, hiCens: fHiCens, hiUpper: fHiUpper, hiLower: fHiLower, riskLo: fRiskLo, riskHi: fRiskHi }, ax6000));

kmPanel({ row: ROW2, left: COLS[0], title: 'AQP9 in the testing dataset', letter: 'G', letterX: 39, letterY: 897,
  labels: ['<=0.3533(30)', '>0.3533(6)'], pval: '0.036', medians: gMedians,
  xMin: -150, xMax: 3150, xMajor: [0, 1000, 2000, 3000], xMinor: [500, 1500, 2500], riskT: riskTimes3000,
  loCurve: gLoCurve, loCens: gLoCens, loUpper: gLoUpper, loLower: gLoLower,
  hiCurve: gHiCurve, hiCens: gHiCens, hiUpper: gHiUpper, hiLower: gHiLower, riskLo: gRiskLo, riskHi: gRiskHi });

kmPanel(Object.assign({ row: ROW2, left: COLS[1], title: 'ZAP70 in the training dataset', letter: 'H', letterX: 484.5, letterY: 897,
  labels: ['<=\u22120.2692(54)', '>\u22120.2692(17)'], pval: '0.0016', medians: hMedians,
  loCurve: hLoCurve, loCens: hLoCens, loUpper: hLoUpper, loLower: hLoLower,
  hiCurve: hHiCurve, hiCens: hHiCens, hiUpper: hHiUpper, hiLower: hHiLower, riskLo: hRiskLo, riskHi: hRiskHi }, ax6000));

kmPanel({ row: ROW2, left: COLS[2], title: 'ZAP70 in the testing dataset', letter: 'I', letterX: 883.5, letterY: 897,
  labels: ['<=\u22120.0754(31)', '>\u22120.0754(5)'], pval: '0.00035', medians: iMedians,
  xMin: -200, xMax: 4200, xMajor: [0, 1000, 2000, 3000, 4000], xMinor: [500, 1500, 2500, 3500], riskT: riskTimes4000,
  loCurve: iLoCurve, loCens: iLoCens, loUpper: iLoUpper, loLower: iLoLower,
  hiCurve: iHiCurve, hiCens: iHiCens, hiUpper: iHiUpper, hiLower: iHiLower, riskLo: iRiskLo, riskHi: iRiskHi });

// ---------- panel letters for volcano / venn ----------
el('letter ctr', 41.5, 37, 'A');
el('letter ctr', 483.5, 37, 'B');
el('letter ctr', 901.5, 37, 'C');

// ---------- caption ----------
const capLines = [
  '<b>Fig. 1</b>&nbsp; Identification of prognosis-related IRGs in laryngeal cancer. <b>A</b>, <b>B</b> Volcano plots of up- (red) and down-regulated (blue) IRGs in laryngeal',
  'cancer than control tissues by DESeq2 and edgeR. <b>C</b> Venn diagram of common differentially expressed IRGs by intersection of DESeq2 and edgeR.',
  '<b>D</b>, <b>E</b> Kaplan-Meier curves of CXCL11 and IGHV4.31 in the training set. <b>F</b>, <b>G</b> Kaplan-Meier curves of AQP9 in the training and validation sets. <b>H</b>, <b>I</b>',
  'Kaplan-Meier curves of ZAP70 in the training and validation sets. <i>P</i> values were determined by log-rank tests'
];
const capW = [1194, 1234, 1193, 913];
const capY = [1270, 1297, 1323.5, 1350];
capLines.forEach((h, i) => {
  const d = el('caption', 27, capY[i]);
  d.innerHTML = h;
  d.style.transform = 'translateY(-50%) scaleX(' + (capW[i] / d.offsetWidth).toFixed(4) + ')';
});
</script>
</body>
</html>
